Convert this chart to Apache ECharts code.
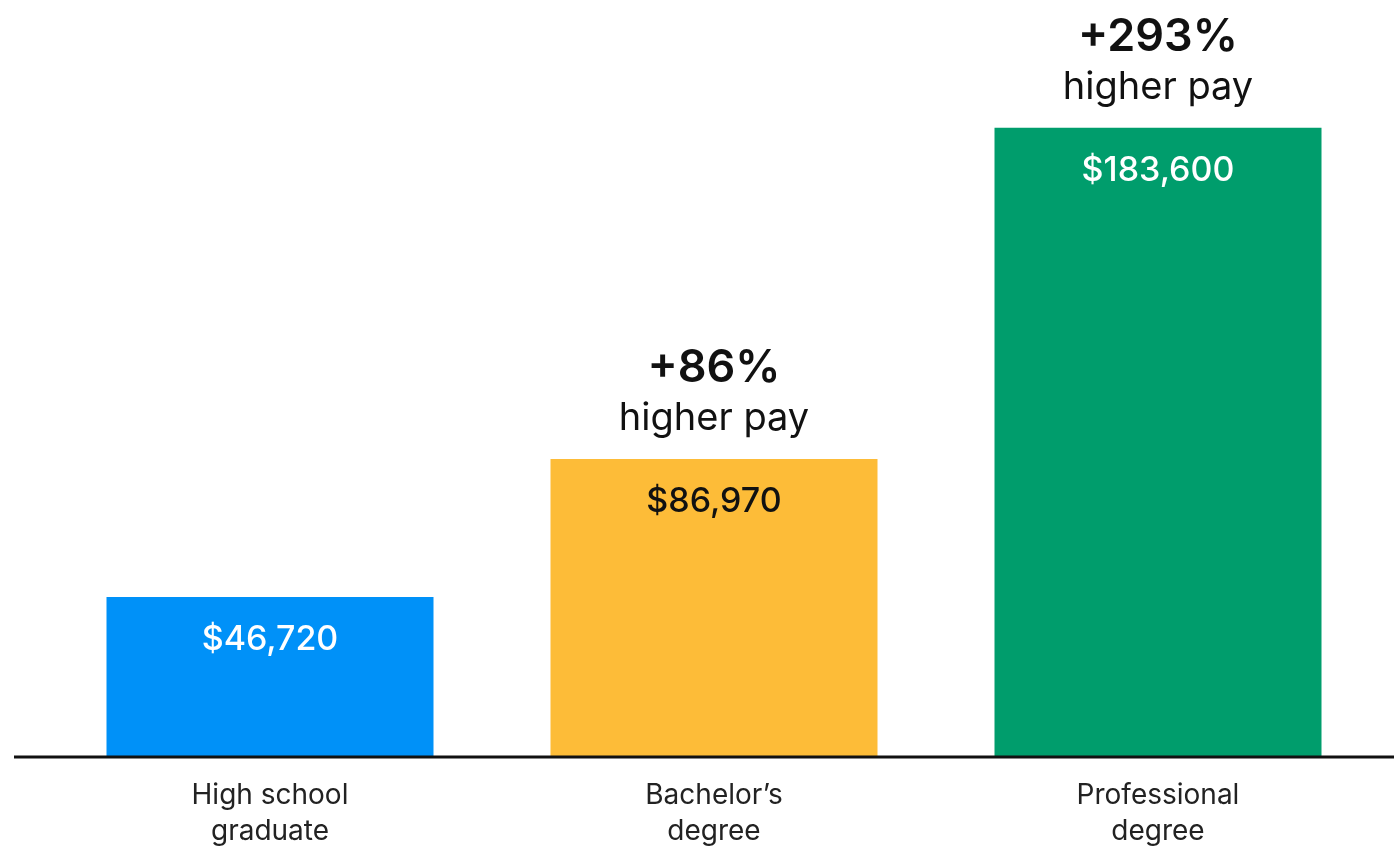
<!DOCTYPE html>
<html>
<head>
<meta charset="utf-8">
<title>Pay by degree</title>
<script src="https://cdn.jsdelivr.net/npm/echarts@6/dist/echarts.min.js"></script>
<style>
    html, body { margin: 0; padding: 0; background: #fff; }
    #chart { width: 1394px; height: 846px; }
</style>
</head>
<body>
<div id="chart"></div>
<script>
// data
const categories = ["High school\ngraduate", "Bachelor\u2019s\ndegree", "Professional\ndegree"];
const pay = [46720, 86970, 183600];
const payLabels = ["$46,720", "$86,970", "$183,600"];
const increase = ["", "+86%", "+293%"];
const barColors = ["#0091F8", "#FDBC38", "#009D6C"];
const labelColors = ["#ffffff", "#111111", "#ffffff"];

const FONT = "Inter, 'Noto Sans', sans-serif";

const chart = echarts.init(document.getElementById("chart"));

const option = {
    backgroundColor: "#fff",
    animation: false,
    grid: { left: 48, right: 14, top: 3, bottom: 89, outerBoundsMode: "none", containLabel: false },
    xAxis: {
        type: "category",
        data: categories,
        axisLine: { show: false },
        axisTick: { show: false },
        axisLabel: {
            margin: 21,
            fontFamily: FONT,
            fontSize: 28,
            lineHeight: 36,
            color: "#222"
        }
    },
    yAxis: {
        type: "value",
        min: 0,
        max: 220000,
        show: false,
        splitLine: { show: false }
    },
    series: [
        {
            type: "bar",
            barWidth: 327,
            data: pay.map((v, i) => ({
                value: v,
                itemStyle: { color: barColors[i] },
                label: { color: labelColors[i] }
            })),
            label: {
                show: true,
                position: "insideTop",
                distance: 26,
                fontFamily: FONT,
                fontSize: 34,
                fontWeight: 500,
                formatter: p => payLabels[p.dataIndex]
            }
        },
        {
            // transparent overlay carrying the "+x% higher pay" notes
            type: "bar",
            barWidth: 327,
            barGap: "-100%",
            silent: true,
            itemStyle: { color: "rgba(0,0,0,0)" },
            data: pay,
            label: {
                show: true,
                position: "top",
                distance: 15,
                formatter: p => increase[p.dataIndex]
                    ? "{pct|" + increase[p.dataIndex] + "}\n{sub|higher pay}"
                    : "",
                rich: {
                    pct: {
                        fontFamily: FONT,
                        fontSize: 45,
                        fontWeight: 600,
                        color: "#111",
                        lineHeight: 50,
                        align: "center"
                    },
                    sub: {
                        fontFamily: FONT,
                        fontSize: 38,
                        color: "#111",
                        lineHeight: 50,
                        align: "center"
                    }
                }
            }
        }
    ],
    graphic: [{
        type: "line",
        shape: { x1: 14, y1: 757, x2: 1394, y2: 757 },
        style: { stroke: "#111", lineWidth: 3 },
        z: 10
    }]
};

chart.setOption(option);
</script>
</body>
</html>
